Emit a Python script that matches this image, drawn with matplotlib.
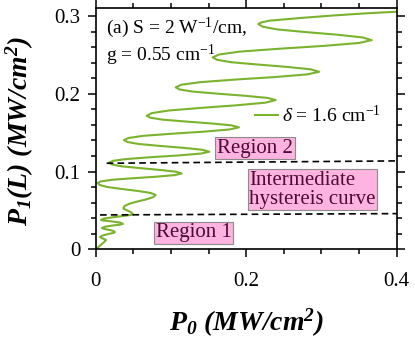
"""P1(L) against P0 for the multistable curve, delta = 1.6 cm^-1."""
import matplotlib

matplotlib.use("Agg")
import matplotlib.pyplot as plt
from matplotlib.ticker import FuncFormatter, MultipleLocator

plt.rcParams["font.family"] = "Liberation Serif"
plt.rcParams["mathtext.fontset"] = "custom"
plt.rcParams["mathtext.rm"] = "Liberation Serif"
plt.rcParams["mathtext.it"] = "Liberation Serif:italic"
plt.rcParams["mathtext.bf"] = "Liberation Serif:italic:bold"

GREEN = "#7ab32e"
PINK = "#ffb3e0"
EDGE = "#8c8c8c"
PLUM = "#4a0d35"

# input power P0 (x) and output power P1(L) (y), bottom to top
p0 = [0.0, 0.0060, 0.0115, 0.0137, 0.0095, 0.0057,
      0.0085, 0.0160, 0.0235, 0.0256, 0.0225, 0.0150, 0.0095, 0.0084,
      0.0120, 0.0220, 0.0330, 0.0363, 0.0320, 0.0200, 0.0090, 0.0070,
      0.0110, 0.0250, 0.0420, 0.0496, 0.0480, 0.0420, 0.0375, 0.0367,
      0.0384, 0.0440, 0.0547, 0.0667, 0.0762, 0.0796,
      0.0734, 0.0564, 0.0348, 0.0155, 0.0055, 0.0024,
      0.0069, 0.0214, 0.0494, 0.0807, 0.1053, 0.1143,
      0.1066, 0.0853, 0.0583, 0.0341, 0.0216, 0.0177,
      0.0230, 0.0404, 0.0737, 0.1110, 0.1403, 0.1510,
      0.1419, 0.1170, 0.0852, 0.0569, 0.0421, 0.0376,
      0.0437, 0.0636, 0.1018, 0.1446, 0.1782, 0.1904,
      0.1806, 0.1536, 0.1193, 0.0886, 0.0727, 0.0678,
      0.0747, 0.0969, 0.1398, 0.1878, 0.2255, 0.2392,
      0.2286, 0.1993, 0.1621, 0.1289, 0.1116, 0.1063,
      0.1139, 0.1387, 0.1864, 0.2399, 0.2818, 0.2971,
      0.2858, 0.2546, 0.2150, 0.1796, 0.1612, 0.1555,
      0.1640, 0.1914, 0.2442, 0.3034, 0.3499, 0.3668,
      0.3547, 0.3216, 0.2794, 0.2417, 0.2221, 0.2161,
      0.2190, 0.2300, 0.2715, 0.3158, 0.3601, 0.4000]
p1 = [0.0, 0.0050, 0.0095, 0.0120, 0.0138, 0.0158,
      0.0175, 0.0195, 0.0210, 0.0222, 0.0240, 0.0255, 0.0267, 0.0274,
      0.0290, 0.0305, 0.0318, 0.0326, 0.0345, 0.0360, 0.0372, 0.0377,
      0.0395, 0.0415, 0.0435, 0.0447, 0.0470, 0.0500, 0.0520, 0.0527,
      0.0556, 0.0584, 0.0613, 0.0641, 0.0670, 0.0698,
      0.0724, 0.0750, 0.0776, 0.0801, 0.0827, 0.0853,
      0.0873, 0.0894, 0.0914, 0.0934, 0.0955, 0.0975,
      0.0998, 0.1021, 0.1045, 0.1068, 0.1091, 0.1114,
      0.1138, 0.1161, 0.1185, 0.1208, 0.1232, 0.1255,
      0.1280, 0.1305, 0.1330, 0.1355, 0.1380, 0.1405,
      0.1432, 0.1460, 0.1487, 0.1514, 0.1542, 0.1569,
      0.1594, 0.1619, 0.1644, 0.1668, 0.1693, 0.1718,
      0.1752, 0.1785, 0.1819, 0.1853, 0.1886, 0.1920,
      0.1947, 0.1974, 0.2002, 0.2029, 0.2056, 0.2083,
      0.2117, 0.2150, 0.2184, 0.2217, 0.2251, 0.2284,
      0.2315, 0.2346, 0.2377, 0.2407, 0.2438, 0.2469,
      0.2506, 0.2543, 0.2580, 0.2617, 0.2654, 0.2691,
      0.2725, 0.2760, 0.2794, 0.2828, 0.2863, 0.2897,
      0.2915, 0.2940, 0.2975, 0.3008, 0.3036, 0.3056]

# region boundaries (dashed)
upper_x = [0.0146, 0.4]
upper_y = [0.1107, 0.1137]
lower_x = [0.0057, 0.4]
lower_y = [0.0442, 0.0459]

fig = plt.figure(figsize=(4.15, 3.45), dpi=100)
ax = fig.add_axes([0.2306, 0.2774, 0.7253, 0.6985])

ax.plot(p0, p1, color=GREEN, linewidth=1.5, label=r"$\delta$ = 1.6 cm$^{\mathrm{-1}}$")
ax.plot(upper_x, upper_y, color="black", linestyle=(0, (4, 2.5)), linewidth=1.2)
ax.plot(lower_x, lower_y, color="black", linestyle=(0, (4, 2.5)), linewidth=1.2)

ax.set_xlim(0, 0.4)
ax.set_ylim(0, 0.31)
ax.xaxis.set_major_locator(MultipleLocator(0.2))
ax.xaxis.set_minor_locator(MultipleLocator(0.05))
ax.yaxis.set_major_locator(MultipleLocator(0.1))
ax.yaxis.set_minor_locator(MultipleLocator(0.02))
fmt = FuncFormatter(lambda v, _: f"{v:g}")
ax.xaxis.set_major_formatter(fmt)
ax.yaxis.set_major_formatter(fmt)
ax.tick_params(which="both", direction="out", top=True, right=True, width=1.1)
ax.tick_params(which="major", length=6, labelsize=15, pad=5)
ax.tick_params(which="minor", length=3.5)
ax.tick_params(axis="x", which="major", pad=10)
for s in ax.spines.values():
    s.set_linewidth(1.2)

ax.set_xlabel(r"P$_\mathbf{0}$ (MW/cm$^\mathbf{2}$)", fontsize=20,
              fontweight="bold", style="italic", labelpad=12)
ax.set_ylabel(r"P$_\mathbf{1}$(L) (MW/cm$^\mathbf{2}$)", fontsize=20,
              fontweight="bold", style="italic")
ax.yaxis.set_label_coords(-0.198, 0.49)

ax.text(0.034, 0.896, r"(a) S = 2 W$^{\mathrm{-1}}$/cm,", transform=ax.transAxes,
        fontsize=14, va="baseline")
ax.text(0.034, 0.781, r"g = 0.55 cm$^{\mathrm{-1}}$", transform=ax.transAxes,
        fontsize=14, va="baseline")

ax.legend(loc="center left", bbox_to_anchor=(0.529, 0.557), frameon=False,
          fontsize=14, handlelength=1.2, handletextpad=0.2, borderpad=0,
          borderaxespad=0)

box = dict(boxstyle="square,pad=0.08", facecolor=PINK, edgecolor=EDGE, linewidth=0.8)
ax.text(0.2117, 0.1303, "Region 2", fontsize=15, color=PLUM,
        ha="center", va="center", bbox=box)
ax.text(0.288, 0.0769, "Intermediate\nhystereis curve", fontsize=15, color=PLUM,
        ha="center", va="center", multialignment="left", linespacing=1.0, bbox=box)
ax.text(0.130, 0.021, "Region 1", fontsize=15, color=PLUM,
        ha="center", va="center", bbox=box)

fig.savefig("out.png", dpi=100)
